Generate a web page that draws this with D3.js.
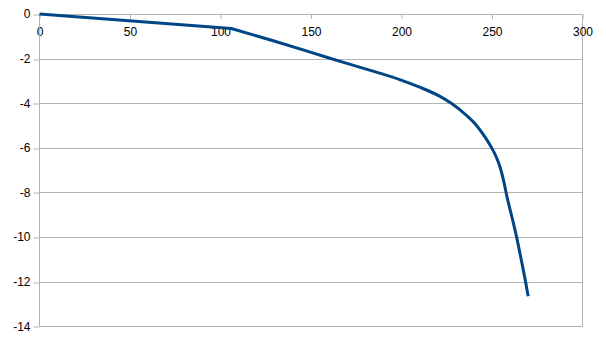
<!DOCTYPE html>
<html>
<head>
<meta charset="utf-8">
<script src="https://cdn.jsdelivr.net/npm/d3@7"></script>
<style>
  body { margin: 0; background: #fff; }
  text { font-family: 'Liberation Sans', Arial, sans-serif; }
</style>
</head>
<body>
<svg id="chart" width="606" height="341"></svg>
<script>
const xValues = [0, 106, 130, 160, 180, 199, 210, 221, 227.5, 236, 241, 246, 249.8, 252.3, 254.4, 256.5, 258.3, 261, 263.6, 266, 268.2, 270]
const yValues = [0, -0.65, -1.22, -1.97, -2.46, -2.94, -3.28, -3.68, -4.0, -4.55, -4.95, -5.5, -6.0, -6.4, -6.85, -7.5, -8.2, -9.1, -10.0, -10.95, -11.85, -12.65]
const xTicks = [0, 50, 100, 150, 200, 250, 300]
const yTicks = [0, -2, -4, -6, -8, -10, -12, -14]

const settings = {
  margin: { top: 14, left: 39.5, bottom: 14.7, right: 23.5 },
  width: 606,
  height: 341,
  grid: '#b3b3b3',
  line: '#004586'
}

const innerwidth = settings.width - settings.margin.left - settings.margin.right,
  innerheight = settings.height - settings.margin.top - settings.margin.bottom

const data = xValues.map((x, i) => ({ x: x, y: yValues[i] }))

let svg = d3.select('#chart')
let canvas = svg.append('g')
  .attr('transform', `translate(${settings.margin.left},${settings.margin.top})`)

let xScale = d3.scaleLinear().domain([0, 300]).range([0, innerwidth])
let yScale = d3.scaleLinear().domain([0, -14]).range([0, innerheight])

// 横向网格线
canvas.append('g')
  .selectAll('line')
  .data(yTicks)
  .enter()
  .append('line')
  .attr('x1', 0)
  .attr('x2', innerwidth)
  .attr('y1', (d) => Math.round(yScale(d)) + 0.5)
  .attr('y2', (d) => Math.round(yScale(d)) + 0.5)
  .attr('stroke', settings.grid)

// 右边框
canvas.append('line')
  .attr('x1', innerwidth).attr('x2', innerwidth)
  .attr('y1', 0).attr('y2', innerheight)
  .attr('stroke', settings.grid)

// x轴 (在顶部, 刻度朝下)
let xAxis = d3.axisBottom(xScale).tickValues(xTicks).tickSize(5).tickPadding(8)
let xAxisGroup = canvas.append('g').call(xAxis)
xAxisGroup.select('.domain').remove()
xAxisGroup.selectAll('line').attr('stroke', settings.grid)

// y轴
let yAxis = d3.axisLeft(yScale).tickValues(yTicks).tickSize(6).tickPadding(3)
  .tickFormat((d) => d3.format('d')(d).replace('−', '-'))
let yAxisGroup = canvas.append('g').call(yAxis)
yAxisGroup.select('.domain').remove()
yAxisGroup.selectAll('line').attr('stroke', settings.grid)
  .attr('transform', (d) => `translate(0,${Math.round(yScale(d)) + 0.5 - yScale(d)})`)

canvas.append('line')
  .attr('x1', 0).attr('x2', 0)
  .attr('y1', 0).attr('y2', innerheight)
  .attr('stroke', settings.grid)

canvas.selectAll('.tick text')
  .attr('font-size', '12px')
  .attr('fill', '#000')
  .attr('font-family', "'Liberation Sans', Arial, sans-serif")

// 曲线: 第一段直线, 之后平滑
let straight = d3.line()
  .x((d) => xScale(d.x))
  .y((d) => yScale(d.y))
let smooth = d3.line()
  .x((d) => xScale(d.x))
  .y((d) => yScale(d.y))
  .curve(d3.curveMonotoneX)

canvas.append('path')
  .attr('d', straight(data.slice(0, 2)) + smooth(data.slice(1)).replace(/^M/, 'L'))
  .attr('fill', 'none')
  .attr('stroke', settings.line)
  .attr('stroke-width', 3)
  .attr('stroke-linejoin', 'round')
</script>
</body>
</html>
